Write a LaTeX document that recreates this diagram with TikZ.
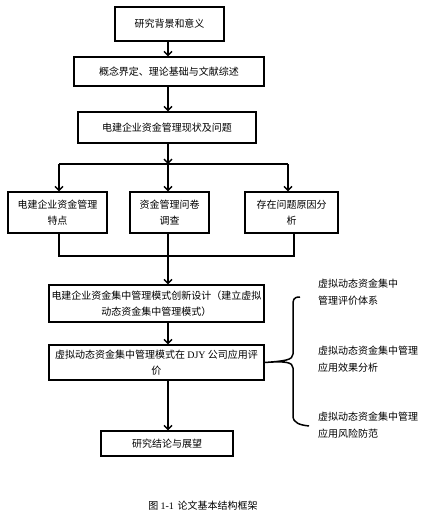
\documentclass[tikz,border=0pt]{standalone}
\usepackage{fontspec}
\setmainfont{Liberation Serif}
\newfontfamily\cjk{Noto Sans CJK SC}
\usetikzlibrary{arrows.meta}
\begin{document}
\begin{tikzpicture}[x=1pt,y=-1pt,
  every node/.style={font=\cjk\fontsize{10}{16.5}\selectfont},
  boxn/.style={draw,line width=1.4pt,rectangle,inner sep=0pt,align=center},
  conn/.style={line width=1.4pt},
  arr/.style={conn,-{Straight Barb[length=4pt,width=8pt,line width=1.4pt]}},
  lbl/.style={anchor=north west,align=left,inner sep=0pt},
]
\useasboundingbox (0,0) rectangle (441,523);
\coordinate (t) at (168,0);
\node[boxn,minimum width=109pt,minimum height=34pt] (b1) at (169.5,24) {研究背景和意义};
\node[boxn,minimum width=190pt,minimum height=29pt] (b2) at (169,71.5) {概念界定、理论基础与文献综述};
\node[boxn,minimum width=178pt,minimum height=31pt] (b3) at (167,127.5) {电建企业资金管理现状及问题};
\node[boxn,minimum width=99pt,minimum height=41pt] (ra) at (57.5,212.5) {电建企业资金管理\\特点};
\node[boxn,minimum width=79pt,minimum height=41pt] (rb) at (169.5,212.5) {资金管理问卷\\调查};
\node[boxn,minimum width=93pt,minimum height=41pt] (rc) at (291.5,212.5) {存在问题原因分\\析};
\node[boxn,minimum width=215pt,minimum height=37pt] (b4) at (156.5,303.5) {电建企业资金集中管理模式创新设计（建立虚拟\\动态资金集中管理模式）};
\node[boxn,minimum width=215pt,minimum height=35pt] (b5) at (156.5,362.5) {虚拟动态资金集中管理模式在 \textrm{DJY} 公司应用评\\价};
\node[boxn,minimum width=132pt,minimum height=25pt] (b6) at (167,443.5) {研究结论与展望};

\coordinate (sp) at (168,164);
\coordinate (spl) at (59,164);
\coordinate (spr) at (288,164);
\coordinate (jl) at (59,256);
\coordinate (jr) at (294,256);

\draw[arr] (b1.south -| t) -- (b2.north -| t);
\draw[arr] (b2.south -| t) -- (b3.north -| t);
\draw[arr] (b3.south -| t) -- (sp);
\draw[conn] (spl) -- (spr);
\draw[arr] (spl) -- (ra.north -| spl);
\draw[arr] (sp) -- (rb.north -| sp);
\draw[arr] (spr) -- (rc.north -| spr);
\draw[conn] (ra.south -| jl) -- (jl) -- (jr) -- (rc.south -| jr);
\draw[arr] (rb.south -| t) -- (b4.north -| t);
\draw[arr] (b4.south -| t) -- (b5.north -| t);
\draw[arr] (b5.south -| t) -- (b6.north -| t);

\coordinate (bt) at (300,297);
\coordinate (bb) at (309,426);
\draw[conn,line width=1.5pt] (bt) .. controls (293,297) and (293,300) .. (293,306)
  -- (293,354) .. controls (293,360) and (285,361) .. (b5.east)
  .. controls (285,361) and (293,362) .. (293,368)
  -- (293,416) .. controls (293,423) and (300,425) .. (bb);

\node[lbl] (l1) at (318,279) {虚拟动态资金集中\\管理评价体系};
\node[lbl] (l2) at (318,346) {虚拟动态资金集中管理\\应用效果分析};
\node[lbl] (l3) at (318,412) {虚拟动态资金集中管理\\应用风险防范};

\node[font=\cjk\fontsize{10}{12}\selectfont] (cap) at (203,506) {图 \textrm{1-1}\, 论文基本结构框架};
\end{tikzpicture}
\end{document}
